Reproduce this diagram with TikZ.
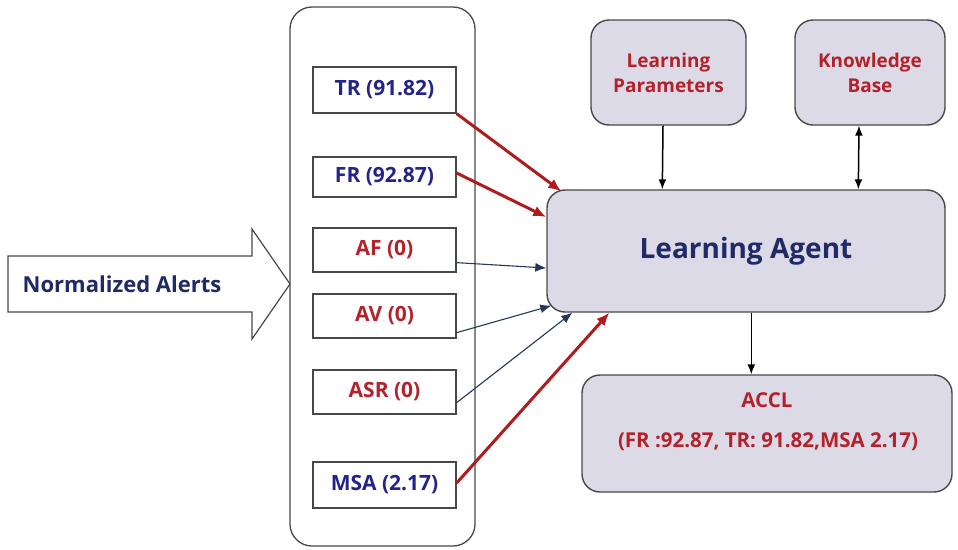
\documentclass[tikz,border=0pt]{standalone}
\usepackage{fontspec}
\setmainfont{Open Sans}
\usetikzlibrary{arrows.meta,calc}
\definecolor{navy}{HTML}{1F2A66}
\definecolor{bluetxt}{HTML}{23238C}
\definecolor{redtxt}{HTML}{B3222A}
\definecolor{redline}{HTML}{B01C1E}
\definecolor{blueline}{HTML}{26375E}
\definecolor{lav}{HTML}{DDDAE8}
\definecolor{edgec}{HTML}{484848}
\begin{document}
\begin{tikzpicture}[x=1pt,y=-1pt,
  valbox/.style={draw=edgec, line width=1.3pt, fill=white, minimum width=143pt, inner sep=0pt,
     font=\fontsize{21}{25}\selectfont\bfseries},
  rbox/.style={draw=edgec, line width=1.4pt, fill=lav, rounded corners=18pt, inner sep=0pt},
  redarr/.style={draw=redline, line width=3pt, -{Latex[length=13pt,width=11pt]}},
  bluearr/.style={draw=blueline, line width=1.1pt, -{Latex[length=11pt,width=9pt]}},
  blkarr/.style={draw=black, line width=1.5pt, -{Latex[length=10pt,width=8pt]}},
  txtred/.style={text=redtxt, font=\fontsize{19}{25}\selectfont\bfseries, align=center},
]
\useasboundingbox (0,0) rectangle (958,549);

% incoming arrow
\draw[draw=edgec, line width=1.2pt, fill=white]
  (8,256) -- (252,256) -- (252,229) -- (290,284) -- (252,339) -- (252,312) -- (8,312) -- cycle;
\node[text=navy, font=\fontsize{22}{26}\selectfont\bfseries] (norm) at (122,284) {Normalized Alerts};

% container
\node[draw=edgec, line width=1.3pt, rounded corners=22pt, minimum width=185pt, minimum height=539pt] (panel) at (382.5,276.5) {};

% value boxes
\node[valbox, text=bluetxt, minimum height=46pt] (tr) at (384.5,90) {TR (91.82)};
\node[valbox, text=bluetxt, minimum height=40pt] (fr) at (384.5,177) {FR (92.87)};
\node[valbox, text=redtxt, minimum height=44pt] (af) at (384.5,250) {AF (0)};
\node[valbox, text=redtxt, minimum height=44pt] (av) at (384.5,316) {AV (0)};
\node[valbox, text=redtxt, minimum height=44pt] (asr) at (384.5,392) {ASR (0)};
\node[valbox, text=bluetxt, minimum height=46pt] (msa) at (384.5,485) {MSA (2.17)};

% right side boxes
\node[rbox, minimum width=398pt, minimum height=122pt, text=navy,
      font=\fontsize{28}{34}\selectfont\bfseries] (la) at (746,251) {Learning Agent};
\node[rbox, minimum width=155pt, minimum height=105pt, txtred] (lp) at (668.5,72.5) {Learning\\Parameters};
\node[rbox, minimum width=150pt, minimum height=105pt, txtred] (kb) at (870,72.5) {Knowledge\\Base};
\node[rbox, minimum width=370pt, minimum height=117pt] (accl) at (767,433.5) {};
\node[txtred, font=\fontsize{20.5}{24}\selectfont\bfseries] (accla) at (767,400) {ACCL};
\node[txtred, font=\fontsize{20.5}{24}\selectfont\bfseries] (acclb) at (768,442) {(FR :92.87, TR: 91.82,MSA 2.17)};

% connectors into learning agent
\draw[redarr] (tr.south east) -- ($(la.north west)+(15,2)$);
\draw[redarr] ($(fr.east)+(0,-4)$) -- ($(la.west)+(0,-34)$);
\draw[bluearr] ($(af.south east)+(0,-10)$) -- ($(la.west)+(0,17)$);
\draw[bluearr] ($(av.south east)+(0,-6)$) -- ($(la.south west)+(5,-7)$);
\draw[bluearr] ($(asr.south east)+(0,-12)$) -- ($(la.south west)+(26,0)$);
\draw[redarr] ($(msa.east)+(0,-2)$) -- ($(la.south west)+(63,0)$);

% black connectors
\draw[blkarr] ($(lp.south)+(-5.5,0)$) -- ($(la.north west)+(116,0)$);
\draw[draw=black, line width=1.5pt, {Latex[length=10pt,width=8pt]}-{Latex[length=10pt,width=8pt]}]
  ($(kb.south)+(-11,0)$) -- ($(la.north west)+(312,0)$);
\draw[blkarr] ($(la.south west)+(205,0)$) -- ($(accl.north west)+(170,0)$);
\end{tikzpicture}
\end{document}
